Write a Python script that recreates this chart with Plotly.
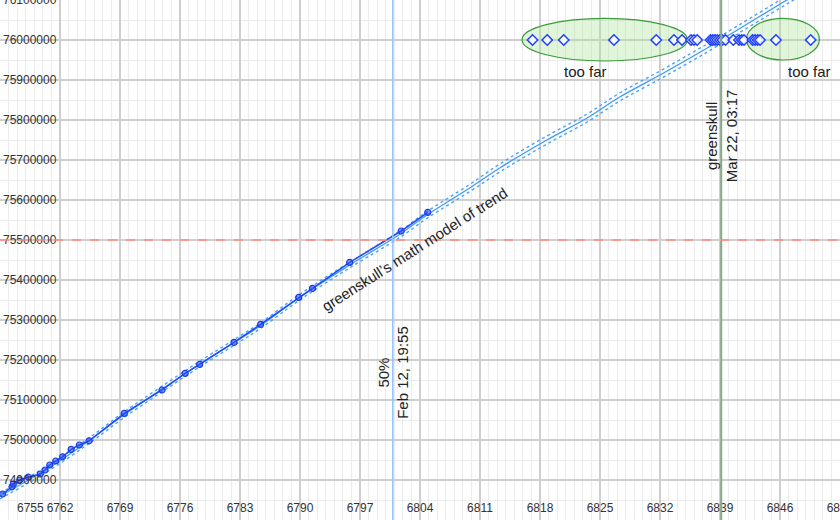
import plotly.graph_objects as go

# ---- data ----
x_ticks = [6755, 6762, 6769, 6776, 6783, 6790, 6797, 6804, 6811, 6818, 6825, 6832, 6839, 6846, 6853]
x_tick_labels = [str(v) for v in x_ticks]
y_ticks = [74900000, 75000000, 75100000, 75200000, 75300000, 75400000, 75500000,
           75600000, 75700000, 75800000, 75900000, 76000000, 76100000]
y_tick_labels = [str(v) for v in y_ticks]

obs_day = [6755.3, 6756.4, 6756.55, 6757.3, 6758.3, 6759.7, 6760.25, 6760.8, 6761.5, 6762.3,
           6763.3, 6764.25, 6765.4, 6769.5, 6773.9, 6776.6, 6778.3, 6782.3, 6785.4, 6789.85,
           6791.45, 6795.8, 6801.8, 6804.9]
obs_val = [74865000, 74883000, 74890000, 74900000, 74907000, 74915000, 74925000, 74937500, 74947500, 74958000,
           74976500, 74987500, 74998000, 75066500, 75125000, 75166500, 75189000, 75244000, 75289000, 75356500,
           75379000, 75444000, 75522500, 75569000]

model_day = [6755.0, 6760.3, 6765.5, 6769.6, 6773.9, 6778.3, 6782.4, 6785.5, 6790.0, 6795.8, 6801.7,
             6804.8, 6809.8, 6813.3, 6818.8, 6823.5, 6827.3, 6832.0, 6835.9, 6839.1, 6846.8, 6853.0]
model_val = [74860000, 74925000, 75000000, 75065000, 75127500, 75190000, 75245000, 75287500, 75357500, 75437500,
             75515000, 75562500, 75630000, 75680000, 75750000, 75805000, 75857500, 75912500, 75960000, 76000000,
             76100000, 76177500]
model_upper = [74867000, 74932000, 75007000, 75072000, 75134500, 75197000, 75252000, 75294500, 75364500, 75444500,
               75523000, 75571000, 75639000, 75690000, 75760000, 75815000, 75867500, 75922500, 75970000, 76010000,
               76110000, 76187500]
model_lower = [74853000, 74918000, 74993000, 75058000, 75120500, 75183000, 75238000, 75280500, 75350500, 75430500,
               75507000, 75554000, 75621000, 75670000, 75740000, 75795000, 75847500, 75902500, 75950000, 75990000,
               76090000, 76167500]

guess_day = [6817.13, 6818.84, 6820.77, 6826.63, 6831.56, 6833.63, 6834.57, 6835.62, 6835.97, 6836.34,
             6837.89, 6838.16, 6838.42, 6838.69, 6839.0, 6839.27, 6839.64, 6840.55, 6841.22, 6841.53,
             6841.8, 6842.79, 6843.08, 6843.38, 6843.67, 6845.53, 6849.58]
guess_level = 76000000

target_level = 75500000
half_day = 6800.83
half_label = "50%<br>Feb 12, 19:55"
gs_day = 6839.14
gs_label = "greenskull<br>Mar 22, 03:17"

far_left = dict(x0=6815.9, x1=6835.2, y0=75947500, y1=76054000)
far_right = dict(x0=6842.1, x1=6850.6, y0=75950000, y1=76054000)

x_range = [6755, 6853]
y_range = [74800000, 76100000]

# ---- figure ----
fig = go.Figure()

fig.add_trace(go.Scatter(x=model_day, y=model_upper, mode="lines",
                         line=dict(color="#4aa3ff", width=1.4, dash="dot", shape="spline"), hoverinfo="skip"))
fig.add_trace(go.Scatter(x=model_day, y=model_lower, mode="lines",
                         line=dict(color="#4aa3ff", width=1.4, dash="dot", shape="spline"), hoverinfo="skip"))
fig.add_trace(go.Scatter(x=model_day, y=model_val, mode="lines",
                         line=dict(color="#3d9bff", width=1.3, shape="spline")))
fig.add_trace(go.Scatter(x=obs_day, y=obs_val, mode="lines+markers",
                         line=dict(color="#1f48ff", width=1.5),
                         marker=dict(symbol="circle", size=6, color="rgba(40,80,255,0.55)",
                                     line=dict(color="#1a3ce0", width=1.2))))
fig.add_trace(go.Scatter(x=guess_day, y=[guess_level] * len(guess_day), mode="markers",
                         marker=dict(symbol="diamond", size=8, color="rgba(255,255,255,0.85)",
                                     line=dict(color="#1f3fff", width=1.5))))

shapes = []
for e in (far_left, far_right):
    shapes.append(dict(type="circle", xref="x", yref="y", layer="between",
                       fillcolor="rgba(170,225,150,0.35)", line=dict(color="#3a9a3a", width=1.2), **e))
shapes.append(dict(type="line", xref="x", yref="paper", x0=half_day, x1=half_day, y0=0, y1=1,
                   line=dict(color="#8ec0ff", width=1.5)))
shapes.append(dict(type="line", xref="x", yref="paper", x0=gs_day, x1=gs_day, y0=0, y1=1,
                   line=dict(color="#86aa86", width=2)))
shapes.append(dict(type="line", xref="paper", yref="y", x0=0, x1=1, y0=target_level, y1=target_level,
                   line=dict(color="#ff8a80", width=1.5, dash="dash")))

annos = [
    dict(x=half_day, y=75170000, text=half_label, textangle=-90, showarrow=False),
    dict(x=gs_day, y=75760000, text=gs_label, textangle=-90, showarrow=False),
    dict(x=6803.3, y=75477500, text="greenskull’s math model of trend", textangle=-32.5, showarrow=False),
    dict(x=6823.25, y=75922500, text="too far", showarrow=False),
    dict(x=6849.4, y=75922500, text="too far", showarrow=False),
    dict(x=x_ticks[0], y=0, yref="paper", text=x_tick_labels[0], showarrow=False,
         xanchor="left", yanchor="bottom", xshift=15, yshift=3, font=dict(color="#333", size=12)),
]
for a in annos:
    a.setdefault("xref", "x")
    a.setdefault("yref", "y")
    a.setdefault("font", dict(color="#222", size=15))

fig.update_layout(
    width=840, height=520,
    margin=dict(l=0, r=0, t=0, b=0, autoexpand=False),
    plot_bgcolor="white", paper_bgcolor="white",
    showlegend=False,
    font=dict(family="Liberation Sans, Arial, sans-serif", size=12, color="#333"),
    shapes=shapes, annotations=annos,
    xaxis=dict(range=x_range, tickmode="array", tickvals=x_ticks[1:], ticktext=x_tick_labels[1:],
               ticklabelposition="inside", ticklabeloverflow="allow", ticklabelstandoff=3, ticks="",
               automargin=False, tickfont=dict(size=12, color="#333"),
               showgrid=True, gridcolor="#cfcfcf", gridwidth=1.5, zeroline=False, showline=False,
               minor=dict(tickmode="linear", tick0=6755, dtick=1, showgrid=True, gridcolor="#ececec", gridwidth=1)),
    yaxis=dict(range=y_range, tickmode="array", tickvals=y_ticks, ticktext=y_tick_labels,
               ticklabelposition="inside", ticklabeloverflow="allow", ticks="",
               automargin=False, tickfont=dict(size=12, color="#333"),
               showgrid=True, gridcolor="#cfcfcf", gridwidth=1.5, zeroline=False, showline=False,
               minor=dict(tickmode="linear", tick0=0, dtick=50000, showgrid=True, gridcolor="#ececec", gridwidth=1)),
)

fig.write_html("out.html", config=dict(displayModeBar=False),
               post_script="document.body.style.margin='0';document.body.style.overflow='hidden';")
